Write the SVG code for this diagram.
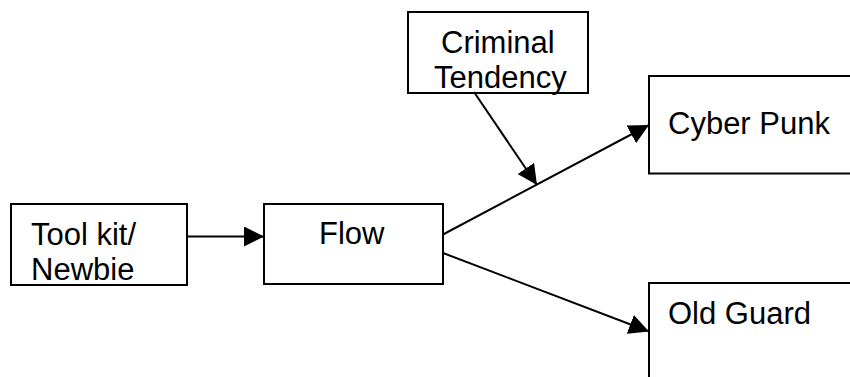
<svg xmlns="http://www.w3.org/2000/svg" width="850" height="377" viewBox="0 0 850 377">
<style>
.box{fill:#fff;stroke:#000;stroke-width:2}
.lbl{font-family:"Liberation Sans",Arial,sans-serif;font-size:31px;fill:#000}
.conn{stroke:#000;stroke-width:2;fill:none;marker-end:url(#ah)}
</style>
<defs>
<marker id="ah" markerUnits="userSpaceOnUse" markerWidth="20" markerHeight="20" viewBox="0 0 20 20" refX="20" refY="10" orient="auto">
<path d="M0,0 L20,10 L0,20 z" fill="#000"/>
</marker>
</defs>
<rect width="850" height="377" fill="#fff"/>
<g id="toolkit">
<rect class="box" x="11" y="204" width="176" height="81"/>
<text class="lbl" x="31" y="245">Tool kit/</text>
<text class="lbl" x="31" y="280">Newbie</text>
</g>
<g id="flow">
<rect class="box" x="264" y="204" width="179" height="80"/>
<text class="lbl" x="319" y="244">Flow</text>
</g>
<g id="criminal">
<rect class="box" x="408" y="12" width="180" height="81"/>
<text class="lbl" x="441" y="53">Criminal</text>
<text class="lbl" x="434" y="88">Tendency</text>
</g>
<g id="cyberpunk">
<rect class="box" x="649" y="76" width="220" height="97.5"/>
<text class="lbl" x="668" y="134">Cyber Punk</text>
</g>
<g id="oldguard">
<rect class="box" x="649" y="283" width="220" height="120"/>
<text class="lbl" x="668" y="324">Old Guard</text>
</g>
<g id="connectors">
<line class="conn" x1="187" y1="236.5" x2="264" y2="236.5"/>
<line class="conn" x1="443" y1="234.5" x2="649" y2="125"/>
<line class="conn" x1="443" y1="253" x2="649" y2="331.5"/>
<line class="conn" x1="474" y1="92" x2="537" y2="185"/>
</g>
</svg>
